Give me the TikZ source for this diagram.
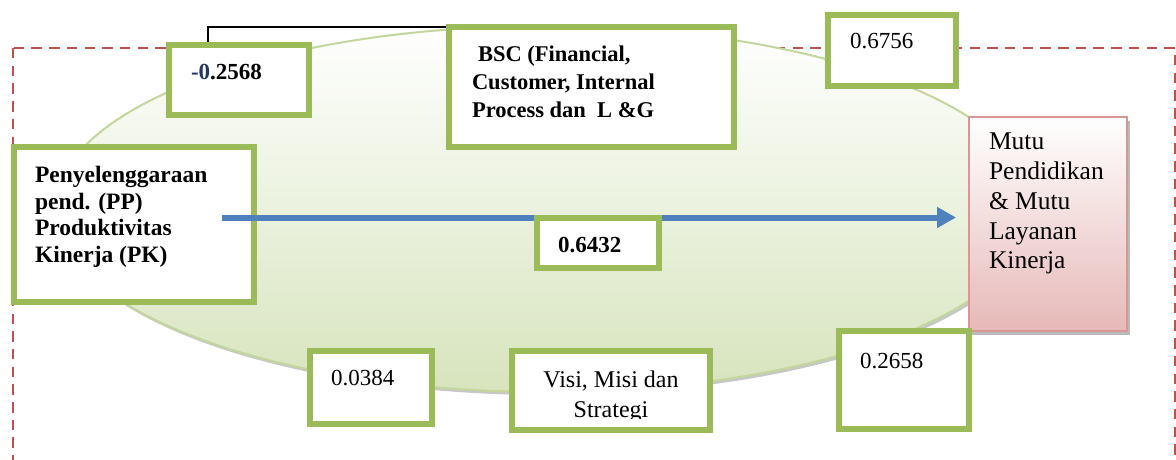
\documentclass[tikz,border=0pt]{standalone}
\usepackage{fontspec}
\setmainfont{Liberation Serif}
\usetikzlibrary{arrows.meta,shadows}

\definecolor{boxgreen}{HTML}{9BBB59}
\definecolor{ringgreen}{HTML}{C3D69B}
\definecolor{fillgreen}{HTML}{D7E4BD}
\definecolor{midgreen}{HTML}{EAF0DE}
\definecolor{flowblue}{HTML}{4F81BD}
\definecolor{framered}{HTML}{C0504D}
\definecolor{pinkedge}{HTML}{D99694}
\definecolor{pinkfill}{HTML}{E6B9B8}
\definecolor{navy}{HTML}{1F3864}

\begin{document}
\begin{tikzpicture}[x=1pt,y=-1pt,
  gbox/.style={draw=boxgreen, line width=6pt, fill=white, rectangle, inner sep=0pt},
  lbl/.style={inner sep=0pt, outer sep=0pt, text=black},
  num/.style={lbl, anchor=base west, font=\fontsize{23}{27}\selectfont},
  bnum/.style={num, font=\fontsize{23}{27}\selectfont\bfseries},
  link/.style={draw=black, line width=1.3pt},
  flow/.style={draw=flowblue, line width=6pt, -{Triangle[length=19pt,width=20pt]}}]

\clip (0,0) rectangle (1176,460);
\fill[white] (0,0) rectangle (1176,460);

% dashed frame around the model
\draw[framered, line width=2.6pt, dash pattern=on 10.5pt off 7.2pt] (13,48) rectangle (1175,520);

% shaded ellipse with its shadow
\fill[black!40, opacity=0.55] (547,212) ellipse [x radius=490, y radius=183];
\shade[top color=white, middle color=midgreen, bottom color=fillgreen]
  (545,209) ellipse [x radius=490, y radius=183];
\draw[ringgreen, line width=2pt] (545,209) ellipse [x radius=490, y radius=183];

% boxes
\node[gbox, minimum width=140pt, minimum height=70pt] (negbox) at (239,80) {};
\node[gbox, minimum width=285pt, minimum height=120pt] (bsc) at (591.5,87) {};
\node[gbox, minimum width=128pt, minimum height=71pt] (topright) at (892,50.5) {};
\node[gbox, minimum width=240pt, minimum height=155pt] (pp) at (134,224.5) {};
\node[draw=pinkedge, line width=2pt, minimum width=158pt, minimum height=214pt, inner sep=0pt,
      top color=white, bottom color=pinkfill,
      general shadow={shadow xshift=3pt, shadow yshift=-4pt, fill=black!45, opacity=0.6}]
      (mutu) at (1048,224) {};

% main effect arrow
\coordinate (a0) at (222,217.5);
\coordinate (a1) at (956,217.5);
\draw[flow] (a0) -- (a1);

\node[gbox, minimum width=122pt, minimum height=50pt] (mid) at (597.5,242.5) {};
\node[gbox, minimum width=122pt, minimum height=73pt] (lowleft) at (371,387.5) {};
\node[gbox, minimum width=198pt, minimum height=79pt] (visi) at (611,390.5) {};
\node[gbox, minimum width=130pt, minimum height=98pt] (lowright) at (904,380) {};

% elbow link from the coefficient box to the BSC box
\draw[link] ([xshift=-31pt]negbox.north) |- ([yshift=-3pt]bsc.north west);

% texts
\node[bnum] (negtxt) at (191,80) {\textcolor{navy}{-0}.2568};
\node[lbl, anchor=north west, align=left, font=\fontsize{22.5}{28}\selectfont\bfseries]
  (bsctxt) at (472,45.4) {\hspace{6pt}BSC (Financial,\\Customer, Internal\\Process dan\ \ L \&G};
\node[num] (toprighttxt) at (850,49) {0.6756};
\node[lbl, anchor=north west, align=left, font=\fontsize{23.5}{26.7}\selectfont\bfseries]
  (pptxt) at (35,166) {Penyelenggaraan\\pend. (PP)\\Produktivitas\\Kinerja (PK)};
\node[lbl, anchor=north west, align=left, font=\fontsize{25.5}{29.8}\selectfont]
  (mututxt) at (989,133.1) {Mutu\\Pendidikan\\\& Mutu\\Layanan\\Kinerja};
\node[bnum] (midtxt) at (558,252) {0.6432};
\node[num] (lowlefttxt) at (331,385) {0.0384};
\node[num] (lowrighttxt) at (860,368) {0.2658};
\begin{scope}
  \clip (515,354) rectangle (707,418);
  \node[lbl, anchor=north, align=center, font=\fontsize{24}{30}\selectfont]
    (visitxt) at (611,370.6) {Visi, Misi dan\\Strategi};
\end{scope}
\end{tikzpicture}
\end{document}
